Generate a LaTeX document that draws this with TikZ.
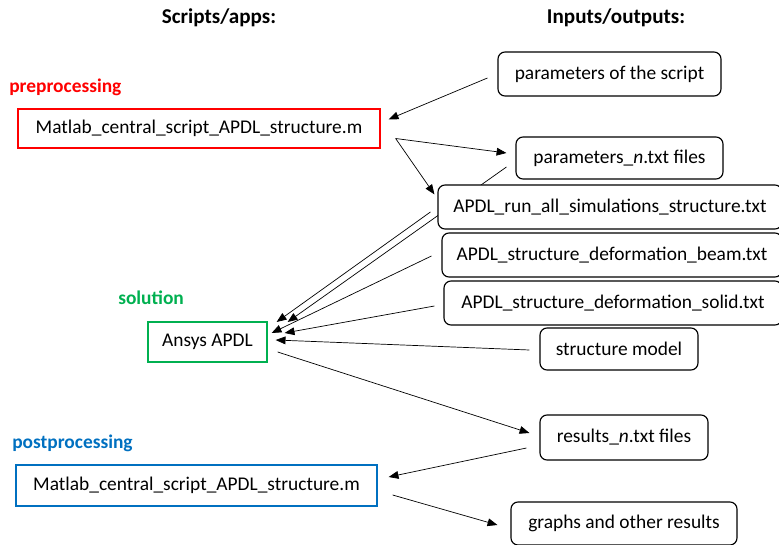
\documentclass[tikz,border=0pt]{standalone}
\usepackage{fontspec}
\setmainfont{Carlito}
\usetikzlibrary{arrows.meta, calc, backgrounds}

\definecolor{prered}{RGB}{255,0,0}
\definecolor{solgreen}{RGB}{0,176,80}
\definecolor{postblue}{RGB}{0,112,192}

\def\u{0.025cm}

\tikzset{
  script/.style={draw, line width=0.9pt, inner sep=0pt, fill=white,
    font=\fontsize{13.8}{16}\selectfont},
  file/.style={draw, rounded corners=5pt, line width=0.8pt, inner sep=0pt, fill=white,
    font=\fontsize{13.8}{16}\selectfont},
  phase/.style={anchor=west, inner sep=0pt, font=\fontsize{13.8}{16}\selectfont\bfseries},
  head/.style={font=\fontsize{15}{18}\selectfont\bfseries},
  link/.style={line width=0.5pt, -{Triangle[length=7pt,width=5.5pt]}},
}

\begin{document}
\begin{tikzpicture}[x=\u, y=-\u]

\useasboundingbox (0,0) rectangle (779,545);

% column headers
\node[head] (hscr) at (219,18) {Scripts/apps:};
\node[head] (hio) at (616,18) {Inputs/outputs:};

% scripts / apps
\node[phase, text=prered] (lpre) at (9,87) {preprocessing};
\node[script, draw=prered, minimum width=362*\u, minimum height=39*\u] (pre) at (199,128.5)
  {Matlab\_central\_script\_APDL\_structure.m};

\node[phase, text=solgreen] (lsol) at (118,298) {solution};
\node[script, draw=solgreen, minimum width=119*\u, minimum height=40*\u] (ansys) at (207.5,342)
  {Ansys APDL};

\node[phase, text=postblue] (lpost) at (12,443) {postprocessing};
\node[script, draw=postblue, minimum width=361*\u, minimum height=41*\u] (post) at (196.5,485.5)
  {Matlab\_central\_script\_APDL\_structure.m};

% inputs / outputs
\node[file, minimum width=223*\u, minimum height=44*\u] (par) at (609.5,74) {parameters of the script};
\node[file, minimum width=207*\u, minimum height=42*\u] (parn) at (619.5,158) {parameters\_\textit{n}.txt files};
\node[file, minimum width=344*\u, minimum height=44*\u] (run) at (610,207) {APDL\_run\_all\_simulations\_structure.txt};
\node[file, minimum width=340*\u, minimum height=44*\u] (beam) at (612,255) {APDL\_structure\_deformation\_beam.txt};
\node[file, minimum width=338*\u, minimum height=44*\u] (solid) at (613,303) {APDL\_structure\_deformation\_solid.txt};
\node[file, minimum width=158*\u, minimum height=42*\u] (model) at (619,349) {structure model};
\node[file, minimum width=168*\u, minimum height=45*\u] (res) at (624,437.5) {results\_\textit{n}.txt files};
\node[file, minimum width=226*\u, minimum height=43*\u] (graphs) at (624,523.5) {graphs and other results};

% connectors
\begin{pgfonlayer}{background}
\draw[link] ($(par.west)+(-10,4)$) -- ($(pre.north east)+(8,11)$);
\draw[link] ($(pre.east)+(15,10)$) -- ($(parn.west)+(-9,-5)$);
\draw[link] ($(pre.east)+(15,10)$) -- ($(run.north west)+(-3,10)$);
\draw[link] ($(parn.west)+(-9,9)$) -- ($(ansys.east)+(20,-20)$);
\draw[link] ($(run.west)+(-7,5)$) -- ($(ansys.east)+(9,-20)$);
\draw[link] ($(beam.west)+(-10,1)$) -- ($(ansys.east)+(4,-9)$);
\draw[link] ($(solid.west)+(-9,3)$) -- ($(ansys.east)+(17,-9)$);
\draw[link] ($(model.west)+(-10,1)$) -- ($(ansys.east)+(8,-2)$);
\draw[link] ($(ansys.east)+(10,10)$) -- ($(res.west)+(-10,-4.5)$);
\draw[link] ($(res.west)+(-13,10.5)$) -- ($(post.east)+(11,-8.5)$);
\draw[link] ($(post.east)+(15,9.5)$) -- ($(graphs.west)+(-13,1.5)$);
\end{pgfonlayer}

\end{tikzpicture}
\end{document}
